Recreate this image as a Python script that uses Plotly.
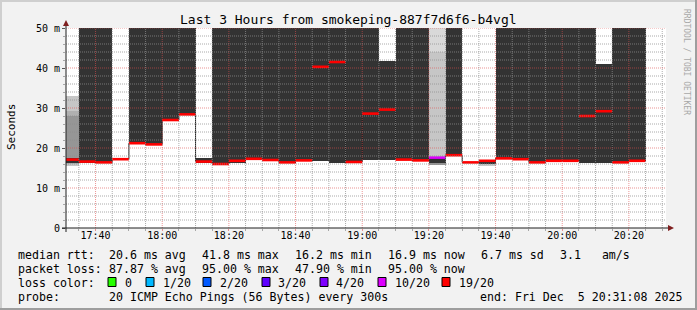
import plotly.graph_objects as go
from datetime import datetime, timedelta

# ---------------- data ----------------
END_TIME = datetime(2025, 12, 5, 20, 31, 8)
START_TIME = END_TIME - timedelta(hours=3)
FIRST_BIN = datetime(2025, 12, 5, 17, 30)
STEP_S = 300

# median rtt per 5-minute bin (ms)
median_ms = [17.1, 16.6, 16.4, 17.2, 21.2, 20.9, 27.0, 28.4, 16.6, 16.0,
             16.8, 17.3, 17.0, 16.4, 16.9, 40.3, 41.5, 16.5, 28.6, 29.6,
             17.1, 16.9, 17.6, 18.2, 16.4, 16.8, 17.4, 17.2, 16.4, 16.8,
             16.8, 28.0, 29.2, 16.4, 16.8]
# lost pings (of 20) per bin
loss_count = [19, 19, 19, 19, 19, 19, 19, 19, 19, 19,
              19, 19, 19, 19, 19, 19, 19, 19, 19, 19,
              19, 19, 10, 19, 19, 19, 19, 19, 19, 19,
              19, 19, 19, 19, 19]
# dark smoke band (ms)
smoke_lo = [16.3, 16.3, 16.2, None, 21.2, 20.9, 27.0, 28.4, 16.3, 15.9,
            16.3, 17.3, 17.0, 16.2, 16.9, 16.8, 16.3, 16.3, 17.1, 17.1,
            17.1, 16.8, 16.3, 18.2, None, 16.0, 17.4, 17.2, 16.4, 16.8,
            16.8, 16.3, 16.3, 16.4, 16.8]
smoke_hi = [17.5, 50, 50, None, 50, 50, 50, 50, 17.5, 50,
            50, 50, 50, 50, 50, 50, 50, 50, 50, 41.7,
            50, 50, 17.6, 50, None, 16.8, 50, 50, 50, 50,
            50, 50, 41.1, 50, 50]
# lighter smoke layers (ms), only a few bins have them
N = len(median_ms)
haze1_lo = [None] * N; haze1_hi = [None] * N
haze2_lo = [None] * N; haze2_hi = [None] * N
haze3_lo = [None] * N; haze3_hi = [None] * N
haze4_lo = [None] * N; haze4_hi = [None] * N
haze1_lo[22], haze1_hi[22] = 15.9, 50
haze2_lo[0], haze2_hi[0] = 15.4, 33.0
haze2_lo[22], haze2_hi[22] = 15.9, 44.1
haze2_lo[25], haze2_hi[25] = 15.4, 16.0
haze3_lo[0], haze3_hi[0] = 15.9, 29.2
haze4_lo[0], haze4_hi[0] = 16.3, 28.0
haze4_lo[22], haze4_hi[22] = 15.9, 16.3

loss_levels = [0, 1, 2, 3, 4, 10, 19]
loss_labels = ["0", "1/20", "2/20", "3/20", "4/20", "10/20", "19/20"]
loss_colors = ["#26ff00", "#00b8ff", "#0059ff", "#5e00ff", "#7e00ff", "#dd00ff", "#ff0000"]

y_tickvals = [0, 10, 20, 30, 40, 50]
y_ticktext = ["0", "10 m", "20 m", "30 m", "40 m", "50 m"]

title_text = "Last 3 Hours from smokeping-887f7d6f6-b4vgl"
legend_rows = [
    [(16, "median rtt:"), (107, "20.6 ms avg"), (200, "41.8 ms max"),
     (293, "16.2 ms min"), (386, "16.9 ms now"), (479, "6.7 ms sd"), (558, "3.1   am/s")],
    [(16, "packet loss:"), (107, "87.87 % avg"), (200, "95.00 % max"),
     (293, "47.90 % min"), (386, "95.00 % now")],
    [(16, "loss color:")],
    [(16, "probe:"), (107, "20 ICMP Echo Pings (56 Bytes) every 300s"),
     (478, "end: Fri Dec  5 20:31:08 2025")],
]
legend_row_y = [254.5, 268.5, 282.5, 296.5]
swatch_x = [108, 146, 203, 262, 320, 378, 442]
swatch_label_x = [123, 161, 218, 276, 334, 393, 457]

# ---------------- layout geometry ----------------
W, H = 697, 310
L, T, PW, PH = 66, 28, 600, 200
FONT = "DejaVu Sans Mono"


def px(x):
    return (x - L) / PW


def py(y):
    return (T + PH - y) / PH


bin_starts = [FIRST_BIN + timedelta(seconds=STEP_S * i) for i in range(N)]
bin_ends = [b + timedelta(seconds=STEP_S) for b in bin_starts]
bar_w = STEP_S * 1000

fig = go.Figure()


def band(lo, hi, color):
    fig.add_trace(go.Bar(
        x=bin_starts, base=lo,
        y=[None if (a is None or b is None) else b - a for a, b in zip(lo, hi)],
        width=bar_w, offset=0, marker=dict(color=color, line=dict(width=0)),
        hoverinfo="skip", showlegend=False))


band(haze1_lo, haze1_hi, "#d9d9d9")
band(haze2_lo, haze2_hi, "#c6c6c6")
band(haze3_lo, haze3_hi, "#b0b0b0")
band(haze4_lo, haze4_hi, "#969696")
band(smoke_lo, smoke_hi, "#333333")

# thin step line of the median
fig.add_trace(go.Scatter(
    x=bin_starts + [bin_ends[-1]],
    y=median_ms + [median_ms[-1]], mode="lines",
    line=dict(color="#202020", width=1, shape="hv"),
    hoverinfo="skip", showlegend=False))

# coloured median segments, one trace per loss colour
for lvl, col in zip(loss_levels, loss_colors):
    xs, ys = [], []
    for s, e, m, c in zip(bin_starts, bin_ends, median_ms, loss_count):
        if c == lvl:
            xs += [s, e, None]
            ys += [m, m, None]
    if xs:
        fig.add_trace(go.Scatter(x=xs, y=ys, mode="lines",
                                 line=dict(color=col, width=2.6),
                                 hoverinfo="skip", showlegend=False))

shapes = []
# grid (drawn above the smoke, like rrdtool)
minor_col = "rgba(143,143,143,0.75)"
major_col = "rgba(222,79,79,0.6)"
t = datetime(2025, 12, 5, 17, 35)
while t <= END_TIME:
    major = (t.minute % 20 == 0)
    shapes.append(dict(type="line", xref="x", yref="paper", x0=t, x1=t, y0=0, y1=1,
                       layer="above",
                       line=dict(color=major_col if major else minor_col, width=1, dash="1px,1px")))
    t += timedelta(minutes=5)
for v in range(2, 51, 2):
    major = (v % 10 == 0)
    shapes.append(dict(type="line", xref="paper", yref="y", x0=0, x1=1, y0=v, y1=v,
                       layer="above",
                       line=dict(color=major_col if major else minor_col, width=1, dash="1px,1px")))

# axis lines and arrows
axis_col = "#1f1f1f"
arrow_col = "#7f1f1f"
shapes.append(dict(type="line", xref="paper", yref="paper", x0=px(62), x1=px(669),
                   y0=py(228), y1=py(228), layer="above", line=dict(color=axis_col, width=1)))
shapes.append(dict(type="line", xref="paper", yref="paper", x0=px(66), x1=px(66),
                   y0=py(232), y1=py(25), layer="above", line=dict(color=axis_col, width=1)))
shapes.append(dict(type="path", xref="paper", yref="paper", layer="above",
                   path=f"M {px(668)},{py(225)} L {px(674)},{py(228)} L {px(668)},{py(231)} Z",
                   fillcolor=arrow_col, line=dict(width=0)))
shapes.append(dict(type="path", xref="paper", yref="paper", layer="above",
                   path=f"M {px(63)},{py(26)} L {px(66)},{py(20)} L {px(69)},{py(26)} Z",
                   fillcolor=arrow_col, line=dict(width=0)))

# legend swatches
for sx, col in zip(swatch_x, loss_colors):
    shapes.append(dict(type="rect", xref="paper", yref="paper",
                       x0=px(sx), x1=px(sx + 8), y0=py(277.5), y1=py(286.5),
                       fillcolor=col, line=dict(color="#000000", width=1)))

# outer frame shading
shapes.append(dict(type="rect", xref="paper", yref="paper", x0=px(0), x1=px(W), y0=py(0), y1=py(2),
                   fillcolor="#cfcfcf", line=dict(width=0)))
shapes.append(dict(type="rect", xref="paper", yref="paper", x0=px(0), x1=px(2), y0=py(0), y1=py(H),
                   fillcolor="#cfcfcf", line=dict(width=0)))
shapes.append(dict(type="rect", xref="paper", yref="paper", x0=px(0), x1=px(W), y0=py(H - 2), y1=py(H),
                   fillcolor="#9e9e9e", line=dict(width=0)))
shapes.append(dict(type="rect", xref="paper", yref="paper", x0=px(W - 2), x1=px(W), y0=py(0), y1=py(H),
                   fillcolor="#9e9e9e", line=dict(width=0)))

annotations = []


def ann(x, y, text, size, xanchor="left", angle=0, color="#000000"):
    annotations.append(dict(x=px(x), y=py(y), xref="paper", yref="paper", text=text.replace(" ", "\u00a0"),
                            showarrow=False, xanchor=xanchor, yanchor="middle", textangle=angle,
                            font=dict(family=FONT, size=size, color=color)))


ann(348, 19.5, title_text, 13, xanchor="center")
ann(11, 127, "Seconds", 11, xanchor="center", angle=-90)
ann(687, 62, "RRDTOOL / TOBI OETIKER", 8, xanchor="center", angle=90, color="#a8a8a8")
for row, yy in zip(legend_rows, legend_row_y):
    for xx, txt in row:
        ann(xx, yy, txt, 11.6)
for lx, lab in zip(swatch_label_x, loss_labels):
    ann(lx, legend_row_y[2], lab, 11.6)

fig.update_layout(
    width=W, height=H,
    margin=dict(l=L, r=W - L - PW, t=T, b=H - T - PH, pad=0),
    paper_bgcolor="#f2f2f2", plot_bgcolor="#ffffff",
    barmode="overlay", bargap=0, showlegend=False,
    shapes=shapes, annotations=annotations,
    font=dict(family=FONT, size=10, color="#000000"),
)
fig.update_xaxes(
    type="date", range=[START_TIME, END_TIME], showgrid=False, zeroline=False, showline=False,
    tickformat="%H:%M", tick0="2025-12-05 17:40:00", dtick=20 * 60 * 1000,
    ticks="outside", ticklen=2, tickcolor=major_col, ticklabelstandoff=-4,
    minor=dict(tick0="2025-12-05 17:35:00", dtick=STEP_S * 1000, ticks="outside", ticklen=2,
               tickcolor=minor_col, showgrid=False),
    tickfont=dict(family=FONT, size=10, color="#000000"), fixedrange=True,
)
fig.update_yaxes(
    range=[0, 50], showgrid=False, zeroline=False, showline=False,
    tickmode="array", tickvals=y_tickvals, ticktext=y_ticktext,
    ticks="outside", ticklen=3, tickcolor="#555555",
    minor=dict(dtick=2, ticks="outside", ticklen=2, tickcolor=minor_col, showgrid=False),
    tickfont=dict(family=FONT, size=10, color="#000000"), fixedrange=True,
)

fig.write_html("out.html")
